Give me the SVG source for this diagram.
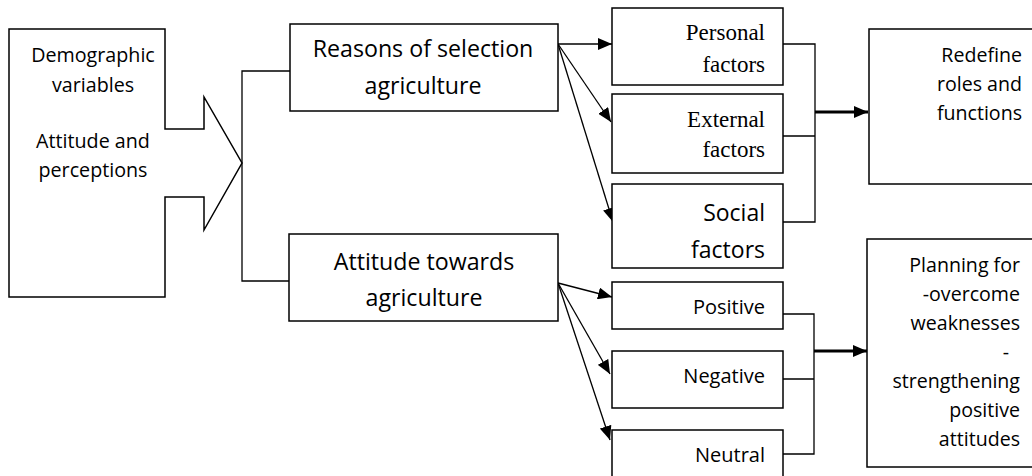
<svg xmlns="http://www.w3.org/2000/svg" width="1032" height="476" viewBox="0 0 1032 476">
<defs>
<style>
.box{fill:#fff;stroke:#000;stroke-width:1.5}
.ln{fill:none;stroke:#000;stroke-width:1.3}
.thick{fill:none;stroke:#000;stroke-width:3}
.s{font-family:"Open Sans","Liberation Sans",sans-serif;fill:#000}
.r{font-family:"Liberation Serif","Times New Roman",serif;fill:#000;font-size:23px}
.c{text-anchor:middle}
.e{text-anchor:end}
</style>
<marker id="ah" markerUnits="userSpaceOnUse" markerWidth="14" markerHeight="12" refX="14" refY="6" orient="auto">
<path d="M0,0 L14,6 L0,12 z" fill="#000"/>
</marker>
</defs>
<rect width="1032" height="476" fill="#fff"/>

<g id="connectors">
<path class="ln" d="M290,71 H242 V281 H290"/>
<line class="ln" x1="558" y1="44" x2="612" y2="44" marker-end="url(#ah)"/>
<line class="ln" x1="558" y1="44" x2="611" y2="122" marker-end="url(#ah)"/>
<line class="ln" x1="558" y1="44" x2="613" y2="222" marker-end="url(#ah)"/>
<line class="ln" x1="558" y1="283" x2="612" y2="297" marker-end="url(#ah)"/>
<line class="ln" x1="558" y1="283" x2="610" y2="374" marker-end="url(#ah)"/>
<line class="ln" x1="558" y1="283" x2="610" y2="440" marker-end="url(#ah)"/>
<path class="ln" d="M783,44 H815 V222 H783 M783,136 H815"/>
<line class="thick" x1="815" y1="112" x2="868" y2="112" marker-end="url(#ah)"/>
<path class="ln" d="M783,314 H814 V454 H783 M783,379 H814"/>
<line class="thick" x1="814" y1="351" x2="867" y2="351" marker-end="url(#ah)"/>
</g>

<g id="inputs">
<path class="box" d="M9,29 H165 V129 H204 V97 L242,163 L204,230 V197 H165 V297 H9 Z"/>
<text class="s c" font-size="19.7" x="93" y="62">Demographic</text>
<text class="s c" font-size="19.7" x="93" y="92">variables</text>
<text class="s c" font-size="19.7" x="93" y="148">Attitude and</text>
<text class="s c" font-size="19.7" x="93" y="177">perceptions</text>
</g>

<g id="reasons">
<rect class="box" x="290" y="24" width="268" height="87"/>
<text class="s c" font-size="23.2" x="423" y="57">Reasons of selection</text>
<text class="s c" font-size="23.2" x="423" y="94">agriculture</text>
</g>

<g id="attitude">
<rect class="box" x="289" y="234" width="269" height="87"/>
<text class="s c" font-size="23.2" x="424" y="270">Attitude towards</text>
<text class="s c" font-size="23.2" x="424" y="306">agriculture</text>
</g>

<g id="personal">
<rect class="box" x="612" y="8" width="171" height="77"/>
<text class="r e" x="765" y="40">Personal</text>
<text class="r e" x="765" y="72">factors</text>
</g>

<g id="external">
<rect class="box" x="612" y="94" width="171" height="79"/>
<text class="r e" x="765" y="127">External</text>
<text class="r e" x="765" y="157">factors</text>
</g>

<g id="social">
<rect class="box" x="612" y="184" width="171" height="84"/>
<text class="s e" font-size="23" x="765" y="221">Social</text>
<text class="s e" font-size="23" x="765" y="258">factors</text>
</g>

<g id="positive">
<rect class="box" x="612" y="282" width="171" height="47"/>
<text class="s e" font-size="20" x="765" y="314">Positive</text>
</g>

<g id="negative">
<rect class="box" x="612" y="351" width="171" height="57"/>
<text class="s e" font-size="20" x="765" y="383">Negative</text>
</g>

<g id="neutral">
<rect class="box" x="612" y="430" width="171" height="60"/>
<text class="s e" font-size="20" x="765" y="462">Neutral</text>
</g>

<g id="redefine">
<rect class="box" x="869" y="29" width="180" height="155"/>
<text class="s e" font-size="19.6" x="1022" y="62">Redefine</text>
<text class="s e" font-size="19.6" x="1022" y="91">roles and</text>
<text class="s e" font-size="19.6" x="1022" y="120">functions</text>
</g>

<g id="planning">
<rect class="box" x="867" y="239" width="180" height="228"/>
<text class="s e" font-size="19.6" x="1020" y="272">Planning for</text>
<text class="s e" font-size="19.6" x="1020" y="301">-overcome</text>
<text class="s e" font-size="19.6" x="1020" y="330">weaknesses</text>
<text class="s e" font-size="19.6" x="1009" y="359">-</text>
<text class="s e" font-size="19.6" x="1020" y="388">strengthening</text>
<text class="s e" font-size="19.6" x="1020" y="417">positive</text>
<text class="s e" font-size="19.6" x="1020" y="446">attitudes</text>
</g>
</svg>
